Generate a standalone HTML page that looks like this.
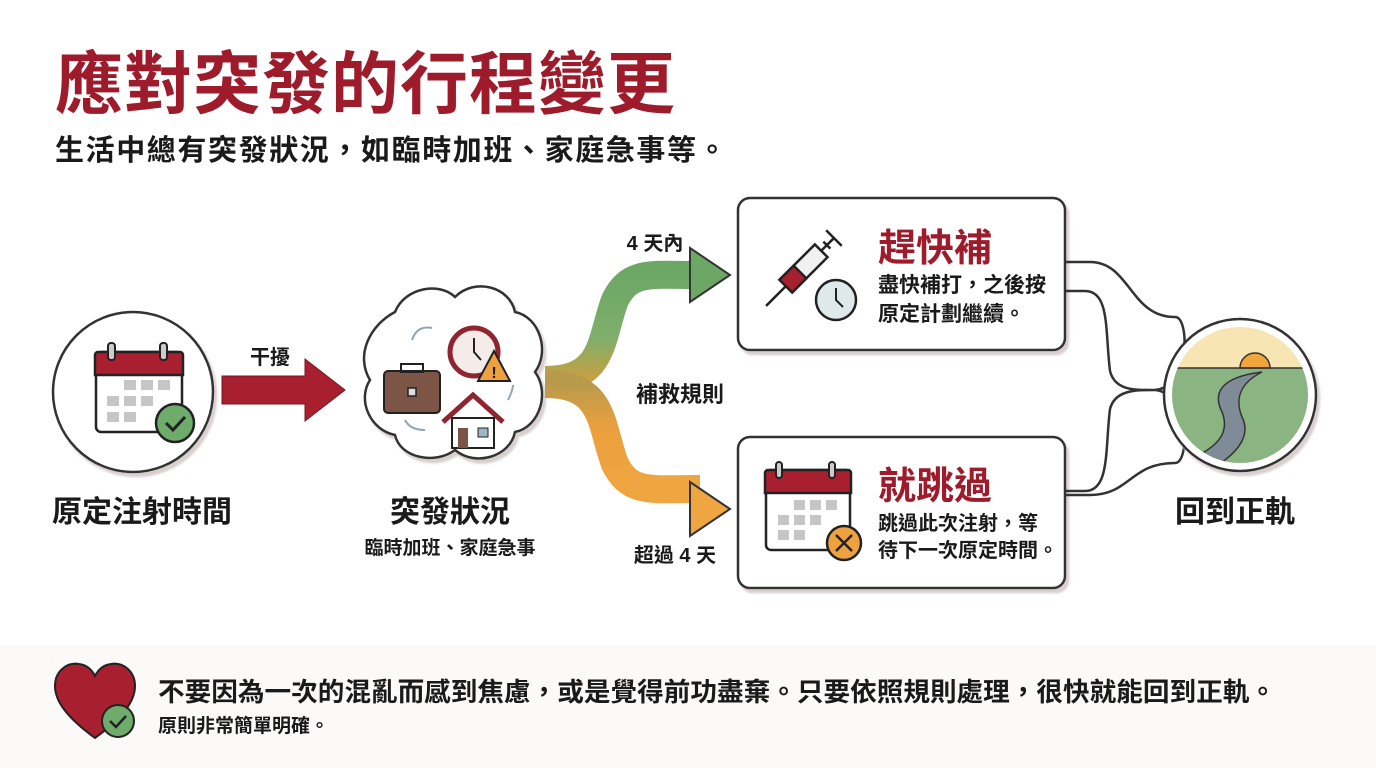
<!DOCTYPE html><html><head><meta charset="utf-8"><style>
body{margin:0;width:1376px;height:768px;background:#fff;overflow:hidden}
svg{display:block}
text{font-family:"Liberation Sans","Noto Sans CJK TC",sans-serif;font-weight:bold;fill:#1a1a1a}
</style></head><body>
<svg width="1376" height="768" viewBox="0 0 1376 768">
<defs>
<linearGradient id="g1" x1="0" y1="1" x2="0" y2="0"><stop offset="0" stop-color="#c9a040"/><stop offset="0.4" stop-color="#7fae6c"/><stop offset="1" stop-color="#6da766"/></linearGradient>
<linearGradient id="g2" x1="0" y1="0" x2="0" y2="1"><stop offset="0" stop-color="#b99a4c"/><stop offset="0.4" stop-color="#e9a03e"/><stop offset="1" stop-color="#f0a640"/></linearGradient>
<filter id="sh"><feDropShadow dx="3" dy="4" stdDeviation="1" flood-color="#d8cfcf"/></filter>
</defs>
<rect x="0" y="645" width="1376" height="123" fill="#fbfaf9"/>
<text x="55" y="108" font-size="68" letter-spacing="1" style="fill:#9e1b2c">應對突發的行程變更</text>
<text x="55" y="160" font-size="29" letter-spacing="1.6">生活中總有突發狀況，如臨時加班、家庭急事等。</text>

<!-- circle 1 -->
<circle cx="133" cy="392" r="80" fill="#fff" stroke="#333" stroke-width="2.5" filter="url(#sh)"/>
<rect x="96" y="352" width="86" height="80" rx="5" fill="#fff" stroke="#222" stroke-width="2.5"/>
<path d="M98 352h82a3 3 0 0 1 3 3v20h-88v-20a3 3 0 0 1 3-3z" fill="#a8202f" stroke="#222" stroke-width="2.5"/>
<rect x="108" y="343" width="7" height="17" rx="3" fill="#ccc" stroke="#222" stroke-width="2"/>
<rect x="160" y="343" width="7" height="17" rx="3" fill="#ccc" stroke="#222" stroke-width="2"/>
<g fill="#c6c6c6"><rect x="124" y="380" width="12" height="10"/><rect x="141" y="380" width="12" height="10"/><rect x="158" y="380" width="12" height="10"/><rect x="107" y="396" width="12" height="10"/><rect x="124" y="396" width="12" height="10"/><rect x="141" y="396" width="12" height="10"/><rect x="107" y="412" width="12" height="10"/><rect x="124" y="412" width="12" height="10"/></g>
<circle cx="175" cy="423" r="19" fill="#6fab6b" stroke="#222" stroke-width="2.5"/>
<path d="M166 423l7 7 12-13" fill="none" stroke="#222" stroke-width="3"/>
<text x="142" y="522" font-size="30" text-anchor="middle">原定注射時間</text>

<!-- red arrow -->
<path d="M222 376h83v-17l40 31-40 31v-17h-83z" fill="#a8202f" stroke="#7a1520" stroke-width="1"/>
<text x="270" y="364" font-size="20" text-anchor="middle">干擾</text>

<!-- cloud -->
<g filter="url(#sh)"><path d="M395 312c10-25 45-30 60-15c20-20 55-10 60 15c25 5 35 40 20 60c15 20 5 55-20 60c-5 25-40 35-60 18c-20 15-55 8-60-15c-25-5-38-35-25-55c-15-25 0-55 25-68z" fill="#fff" stroke="#333" stroke-width="2.5"/></g>
<rect x="384" y="371" width="56" height="42" rx="4" fill="#7d5546" stroke="#222" stroke-width="2"/>
<rect x="401" y="364" width="22" height="8" fill="none" stroke="#222" stroke-width="2"/>
<rect x="408" y="388" width="8" height="8" fill="#ddd" stroke="#222" stroke-width="1.5"/>
<circle cx="474" cy="352" r="24" fill="#f4ece8" stroke="#8e2530" stroke-width="5"/>
<path d="M474 338v14l7 8" stroke="#222" stroke-width="2" fill="none"/>
<path d="M494 351l16 30h-32z" fill="#eea23f" stroke="#222" stroke-width="2"/>
<text x="494" y="378" font-size="16" text-anchor="middle">!</text>
<path d="M443 422l30-27 30 27" fill="none" stroke="#8e2530" stroke-width="5"/>
<rect x="452" y="418" width="42" height="30" fill="#fff" stroke="#222" stroke-width="2"/>
<rect x="458" y="428" width="10" height="20" fill="#7d5546"/>
<rect x="478" y="428" width="10" height="9" fill="#9bb6c4" stroke="#222" stroke-width="1"/>
<path d="M412 340q5-15 20-12M405 420q5 10 20 10M508 400q5-10 5-15" stroke="#8fa7b2" stroke-width="2" fill="none"/>
<text x="450" y="522" font-size="30" text-anchor="middle">突發狀況</text>
<text x="450" y="554" font-size="19" text-anchor="middle">臨時加班、家庭急事</text>

<!-- branches -->
<path d="M545 380c60 0 55-40 70-80c15-30 35-25 85-25" fill="none" stroke="url(#g1)" stroke-width="28"/>
<path d="M690 248l40 27-40 27z" fill="#6da766" stroke="#333" stroke-width="2"/>
<path d="M545 384c60 0 55 40 70 80c15 30 35 25 85 25" fill="none" stroke="url(#g2)" stroke-width="28"/>
<path d="M690 482l40 27-40 27z" fill="#f0a640" stroke="#333" stroke-width="2"/>
<text x="655" y="250" font-size="20" text-anchor="middle">4 天內</text>
<text x="680" y="402" font-size="22" text-anchor="middle">補救規則</text>
<text x="675" y="562" font-size="20" text-anchor="middle">超過 4 天</text>

<!-- boxes -->
<rect x="738" y="198" width="327" height="152" rx="12" fill="#fff" stroke="#333" stroke-width="2.5" filter="url(#sh)"/>
<rect x="738" y="437" width="327" height="151" rx="12" fill="#fff" stroke="#333" stroke-width="2.5" filter="url(#sh)"/>
<!-- syringe -->
<g transform="translate(800 272) rotate(45)" stroke="#222" stroke-width="2.5">
<rect x="-9" y="-30" width="18" height="50" fill="#f1f1f1"/>
<rect x="-9" y="0" width="18" height="20" fill="#a8202f"/>
<path d="M0 20v28" />
<path d="M0 -30v-18M-11 -48h22M-5 -38h10"/>
</g>
<circle cx="836" cy="300" r="20" fill="#dfe9ea" stroke="#222" stroke-width="2.5"/>
<path d="M836 288v12l7 7" stroke="#222" stroke-width="2" fill="none"/>
<text x="878" y="261" font-size="38" style="fill:#9e1b2c">趕快補</text>
<text x="878" y="292" font-size="21">盡快補打，之後按</text>
<text x="878" y="321" font-size="21">原定計劃繼續。</text>
<!-- calendar x -->
<rect x="766" y="470" width="84" height="80" rx="5" fill="#fff" stroke="#222" stroke-width="2.5"/>
<path d="M768 470h80a3 3 0 0 1 3 3v20h-86v-20a3 3 0 0 1 3-3z" fill="#a8202f" stroke="#222" stroke-width="2.5"/>
<rect x="776" y="462" width="6" height="16" rx="3" fill="#ccc" stroke="#222" stroke-width="2"/>
<rect x="829" y="462" width="6" height="16" rx="3" fill="#ccc" stroke="#222" stroke-width="2"/>
<g fill="#c6c6c6"><rect x="794" y="500" width="11" height="10"/><rect x="810" y="500" width="11" height="10"/><rect x="826" y="500" width="11" height="10"/><rect x="778" y="515" width="11" height="10"/><rect x="794" y="515" width="11" height="10"/><rect x="810" y="515" width="11" height="10"/><rect x="778" y="530" width="11" height="10"/><rect x="794" y="530" width="11" height="10"/></g>
<circle cx="844" cy="543" r="17" fill="#eea23f" stroke="#222" stroke-width="2.5"/>
<path d="M836 535l16 16M852 535l-16 16" stroke="#222" stroke-width="2.5"/>
<text x="878" y="499" font-size="38" style="fill:#9e1b2c">就跳過</text>
<text x="878" y="530" font-size="20">跳過此次注射，等</text>
<text x="878" y="557" font-size="20">待下一次原定時間。</text>

<!-- merge connectors -->
<g fill="none" stroke="#333" stroke-width="2.5">
<path d="M1065 262h25c40 0 40 55 85 55c15 0 15 70 -20 73c35 3 35 73 20 73c-45 0-45 32-85 32h-25"/>
<path d="M1065 291h20c25 0 20 40 25 80c5 20 25 19 45 19c-20 0-40 0-45 19c-5 40 0 82-25 82h-20"/>
</g>

<!-- right circle -->
<circle cx="1240" cy="395" r="76" fill="#fff" stroke="#333" stroke-width="2.5" filter="url(#sh)"/>
<clipPath id="cc"><circle cx="1240" cy="395" r="68"/></clipPath>
<g clip-path="url(#cc)">
<rect x="1160" y="320" width="160" height="48" fill="#f7e6b4"/>
<rect x="1160" y="368" width="160" height="110" fill="#8ab482"/>
<path d="M1240 368a15 15 0 0 1 30 0z" fill="#f1a63c" stroke="#333" stroke-width="1.5"/>
<path d="M1160 368h160" stroke="#333" stroke-width="1.5"/>
<path d="M1262 372c-40 5-50 20-40 40c10 25-10 40-50 55l25 10c40-20 55-40 45-60c-8-20 0-35 20-45z" fill="#7f8c98" stroke="#333" stroke-width="1.5"/>
</g>
<text x="1235" y="522" font-size="30" text-anchor="middle">回到正軌</text>

<!-- heart -->
<path d="M95 738c-30-22-40-38-40-52c0-15 12-24 24-22c8 1 13 6 16 12c3-6 8-11 16-12c12-2 24 7 24 22c0 14-10 30-40 52z" fill="#a8202f" stroke="#222" stroke-width="2"/>
<circle cx="118" cy="721" r="16" fill="#6fab6b" stroke="#222" stroke-width="2"/>
<path d="M110 721l6 6 10-11" fill="none" stroke="#222" stroke-width="2.5"/>
<text x="158" y="701" font-size="26" textLength="1118" lengthAdjust="spacingAndGlyphs">不要因為一次的混亂而感到焦慮，或是覺得前功盡棄。只要依照規則處理，很快就能回到正軌。</text>
<text x="158" y="732" font-size="19">原則非常簡單明確。</text>
</svg>
</body></html>
